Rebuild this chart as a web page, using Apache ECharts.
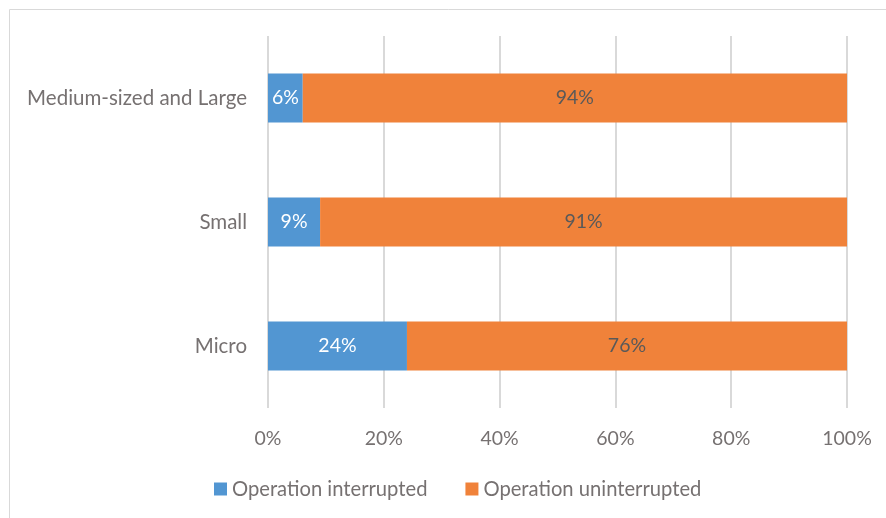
<!DOCTYPE html>
<html><head><meta charset="utf-8">
<script src="https://cdn.jsdelivr.net/npm/echarts@6/dist/echarts.min.js"></script>
<style>html,body{margin:0;padding:0;background:#fff}#c{width:886px;height:518px}</style>
</head><body><div id="c"></div>
<script>
var categories = ['Micro', 'Small', 'Medium-sized and Large'];
var interrupted = [24, 9, 6];
var uninterrupted = [76, 91, 94];
var seriesNames = ['Operation interrupted', 'Operation uninterrupted'];
var xTicks = [0, 20, 40, 60, 80, 100];

var font = 'Lato, "Open Sans", sans-serif';
var chart = echarts.init(document.getElementById('c'));
chart.setOption({
  animation: false,
  textStyle: {fontFamily: font},
  graphic: [{type: 'rect', shape: {x: 9.5, y: 9.5, width: 900, height: 600}, style: {fill: 'none', stroke: '#d9d9d9', lineWidth: 1}, silent: true}],
  grid: {left: 268, right: 39, top: 36, bottom: 110, containLabel: false},
  legend: {
    top: 474, left: 209, itemWidth: 13, itemHeight: 13, itemGap: 38,
    icon: 'rect',
    textStyle: {fontSize: 20.2, color: '#767171', fontFamily: font, padding: [0, 0, 0, 0]},
    data: seriesNames
  },
  xAxis: {
    type: 'value', min: 0, max: 100, interval: 20,
    axisLabel: {formatter: function (v) { return v + '%'; }, fontSize: 19.5, color: '#767171', margin: 21},
    splitLine: {lineStyle: {color: '#d9d9d9', width: 2}},
    axisLine: {show: false}, axisTick: {show: false}
  },
  yAxis: {
    type: 'category', data: categories,
    axisLabel: {fontSize: 20.5, color: '#767171', margin: 21},
    axisLine: {show: false}, axisTick: {show: false}
  },
  series: [
    {name: seriesNames[0], type: 'bar', stack: 'a', data: interrupted, barWidth: 49,
     itemStyle: {color: '#5296D2'},
     label: {show: true, position: 'inside', formatter: '{c}%', color: '#fff', fontSize: 19.5, fontFamily: font}},
    {name: seriesNames[1], type: 'bar', stack: 'a', data: uninterrupted, barWidth: 49,
     itemStyle: {color: '#F0823A'},
     label: {show: true, position: 'inside', formatter: '{c}%', color: '#595959', fontSize: 19.5, fontFamily: font}}
  ]
});
</script></body></html>
